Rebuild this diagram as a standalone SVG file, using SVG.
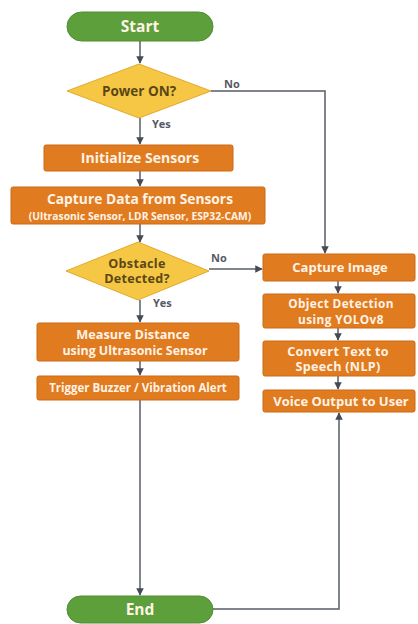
<svg xmlns="http://www.w3.org/2000/svg" width="418" height="624" viewBox="0 0 418 624">
<style>
.box{fill:#e17b1f;stroke:#c96a16;stroke-width:1}
.term{fill:#5c9f3b;stroke:#4f8e33;stroke-width:1}
.dia{fill:#f5c744;stroke:#e2aa2a;stroke-width:1}
.t{font-family:"Open Sans","Liberation Sans",sans-serif;font-weight:bold;fill:#fff3e6;text-anchor:middle}
.dt{font-family:"Open Sans","Liberation Sans",sans-serif;font-weight:bold;fill:#5b4714;text-anchor:middle}
.lbl{font-family:"Open Sans","Liberation Sans",sans-serif;font-weight:bold;fill:#555a66;font-size:11px}
.ln{fill:none;stroke:#575c68;stroke-width:1.5}
</style>
<defs>
<marker id="ah" viewBox="0 0 10 10" refX="9" refY="5" markerWidth="5" markerHeight="5" orient="auto">
<path d="M0,0 L10,5 L0,10 z" fill="#454a56"/>
</marker>
</defs>
<rect width="418" height="624" fill="#ffffff"/>
<g id="connectors">
<path class="ln" d="M140,41 V63" marker-end="url(#ah)"/>
<path class="ln" d="M211,91 H325 V253" marker-end="url(#ah)"/>
<path class="ln" d="M140,118 V144" marker-end="url(#ah)"/>
<path class="ln" d="M140,171 V186" marker-end="url(#ah)"/>
<path class="ln" d="M140,224 V242" marker-end="url(#ah)"/>
<path class="ln" d="M209,269 H262" marker-end="url(#ah)"/>
<path class="ln" d="M140,300 V322" marker-end="url(#ah)"/>
<path class="ln" d="M140,361 V375" marker-end="url(#ah)"/>
<path class="ln" d="M140,400 V595" marker-end="url(#ah)"/>
<path class="ln" d="M338,281 V293" marker-end="url(#ah)"/>
<path class="ln" d="M338,328 V340" marker-end="url(#ah)"/>
<path class="ln" d="M338,376 V389" marker-end="url(#ah)"/>
<path class="ln" d="M212,609 H339 V413" marker-end="url(#ah)"/>
<text class="lbl" x="224" y="88">No</text>
<text class="lbl" x="152" y="128">Yes</text>
<text class="lbl" x="211" y="262">No</text>
<text class="lbl" x="153" y="307">Yes</text>
</g>
<g id="start">
<rect class="term" x="67" y="12" width="146" height="29" rx="14.5"/>
<text class="t" x="140" y="32" font-size="15.5">Start</text>
</g>
<g id="power">
<polygon class="dia" points="139,64 211,91 139,118 67,91"/>
<text class="dt" x="139" y="96" font-size="13.5">Power ON?</text>
</g>
<g id="init">
<rect class="box" x="44" y="145" width="189" height="26" rx="2"/>
<text class="t" x="140" y="163" font-size="14">Initialize Sensors</text>
</g>
<g id="capture">
<rect class="box" x="11" y="187" width="254" height="37" rx="2"/>
<text class="t" x="140" y="204" font-size="13.8">Capture Data from Sensors</text>
<text class="t" x="140" y="219.5" font-size="10.3">(Ultrasonic Sensor, LDR Sensor, ESP32-CAM)</text>
</g>
<g id="obstacle">
<polygon class="dia" points="138,242 209,271 138,300 66,271"/>
<text class="dt" x="137" y="267.5" font-size="12.6" letter-spacing="0.3">Obstacle</text>
<text class="dt" x="137" y="283" font-size="12.6" letter-spacing="0.3">Detected?</text>
</g>
<g id="measure">
<rect class="box" x="37" y="323" width="202" height="38" rx="2"/>
<text class="t" x="133" y="339" font-size="12.7">Measure Distance</text>
<text class="t" x="135" y="355" font-size="12.4">using Ultrasonic Sensor</text>
</g>
<g id="trigger">
<rect class="box" x="37" y="376" width="202" height="24" rx="2"/>
<text class="t" x="138" y="392" font-size="11.5">Trigger Buzzer / Vibration Alert</text>
</g>
<g id="captureimg">
<rect class="box" x="263" y="254" width="152" height="27" rx="2"/>
<text class="t" x="340" y="272" font-size="13">Capture Image</text>
</g>
<g id="objdet">
<rect class="box" x="263" y="294" width="152" height="34" rx="2"/>
<text class="t" x="341" y="307.5" font-size="11.8" letter-spacing="0.4">Object Detection</text>
<text class="t" x="341" y="323.5" font-size="11.8" letter-spacing="0.4">using YOLOv8</text>
</g>
<g id="tts">
<rect class="box" x="263" y="341" width="152" height="35" rx="2"/>
<text class="t" x="338" y="355.5" font-size="12.6" letter-spacing="0.3">Convert Text to</text>
<text class="t" x="338" y="371" font-size="12.6" letter-spacing="0.3">Speech (NLP)</text>
</g>
<g id="voice">
<rect class="box" x="263" y="390" width="152" height="22" rx="2"/>
<text class="t" x="341" y="405.5" font-size="13">Voice Output to User</text>
</g>
<g id="end">
<rect class="term" x="67" y="596" width="146" height="27" rx="13.5"/>
<text class="t" x="140" y="615" font-size="15.5">End</text>
</g>
</svg>
